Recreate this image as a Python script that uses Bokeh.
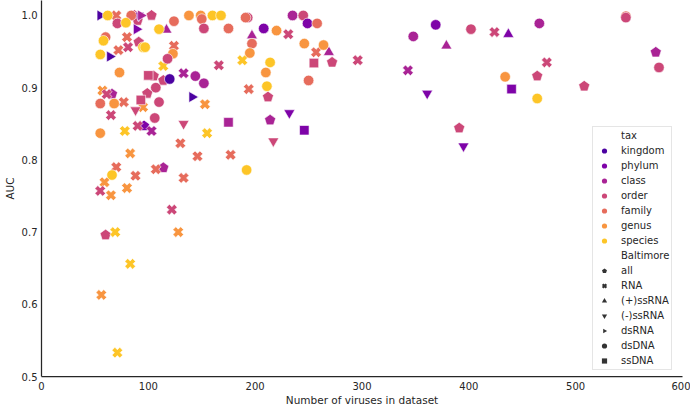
import numpy as np
from bokeh.plotting import figure
from bokeh.models import Legend, LegendItem, FixedTicker, NumeralTickFormatter, Range1d
from bokeh.embed import file_html
from bokeh.resources import INLINE

tax_levels = ["kingdom", "phylum", "class", "order", "family", "genus", "species"]
tax_colors = ["#4c02a1", "#7e03a8", "#a92395", "#cc4778", "#e66c5c", "#f89540", "#fdc527"]
baltimore_groups = ["all", "RNA", "(+)ssRNA", "(-)ssRNA", "dsRNA", "dsDNA", "ssDNA"]
x_ticks = [0, 100, 200, 300, 400, 500, 600]
y_ticks = [0.5, 0.6, 0.7, 0.8, 0.9, 1.0]

n_viruses = [55, 62, 70, 84, 87, 91, 93, 103, 124, 138, 149, 150, 160, 168, 193, 191,
             235, 245, 249, 258, 152, 175, 208, 220, 110, 117, 231, 197, 197, 124,
             123, 118, 114, 95, 166, 188, 214, 210, 211, 100, 105, 120, 114, 133,
             144, 152, 246, 264, 257, 269, 195, 255, 272, 296, 250, 194, 212, 141,
             153, 232, 133, 175, 214, 246, 217, 155, 130, 146, 177, 192, 133, 128,
             369, 466, 348, 402, 424, 437, 379, 343, 473, 434, 464, 440, 361, 464,
             508, 391, 395, 547, 547, 575, 578, 65, 88, 95, 106, 55, 78, 90, 96,
             103, 83, 70, 66, 59, 55, 65, 80, 88, 107, 114, 122, 60, 69, 83, 56, 71,
             73, 99, 57, 61, 66, 55, 68, 77, 93, 107, 110, 71, 79, 90, 89, 60, 58,
             80, 81, 72, 91, 97, 55, 64]
auc = [1.000, 1.000, 1.000, 1.000, 1.000, 1.000, 1.000, 1.000, 0.992, 1.000, 1.000, 0.995,
       1.000, 1.000, 0.997, 0.997, 1.000, 1.000, 0.989, 0.989, 0.982, 0.982, 0.982, 0.979,
       0.981, 0.980, 0.974, 0.972, 0.961, 0.958, 0.947, 0.940, 0.930, 0.956, 0.931, 0.938,
       0.935, 0.921, 0.902, 0.917, 0.916, 0.912, 0.910, 0.920, 0.916, 0.906, 0.961, 0.959,
       0.949, 0.949, 0.948, 0.934, 0.935, 0.938, 0.910, 0.898, 0.887, 0.887, 0.877, 0.865,
       0.850, 0.852, 0.855, 0.841, 0.826, 0.837, 0.823, 0.805, 0.807, 0.786, 0.775, 0.700,
       0.987, 0.989, 0.971, 0.981, 0.977, 0.974, 0.958, 0.924, 0.935, 0.915, 0.916, 0.898,
       0.892, 0.885, 0.902, 0.844, 0.819, 0.999, 0.997, 0.949, 0.928, 0.862, 0.869, 0.873,
       0.858, 0.837, 0.840, 0.847, 0.847, 0.840, 0.809, 0.790, 0.779, 0.769, 0.757, 0.751,
       0.761, 0.778, 0.787, 0.789, 0.731, 0.696, 0.700, 0.656, 0.613, 0.533, 0.921, 0.892,
       0.896, 0.891, 0.891, 0.878, 0.878, 0.880, 0.883, 0.900, 0.880, 0.989, 0.990, 0.993,
       0.981, 0.970, 0.965, 0.970, 0.956, 0.952, 0.963, 0.956, 0.946, 0.943]
tax = ["kingdom", "species", "family", "family", "order", "phylum", "class", "order",
       "family", "genus", "genus", "family", "species", "species", "order", "family",
       "class", "order", "phylum", "family", "order", "family", "phylum", "genus",
       "species", "class", "order", "class", "family", "family", "genus", "order",
       "species", "species", "order", "species", "species", "genus", "species", "order",
       "order", "kingdom", "order", "class", "class", "class", "genus", "genus",
       "family", "class", "genus", "order", "order", "order", "family", "family",
       "order", "kingdom", "genus", "phylum", "order", "class", "class", "phylum",
       "order", "species", "family", "family", "family", "species", "family", "genus",
       "phylum", "class", "class", "order", "order", "phylum", "class", "class",
       "order", "genus", "order", "phylum", "phylum", "species", "order", "order",
       "phylum", "family", "order", "class", "order", "order", "order", "genus",
       "order", "genus", "species", "order", "phylum", "class", "genus", "family",
       "species", "genus", "order", "genus", "genus", "family", "family", "class",
       "order", "order", "species", "species", "genus", "species", "genus", "order",
       "genus", "order", "class", "family", "genus", "family", "order", "order",
       "order", "order", "species", "order", "phylum", "family", "species", "family",
       "order", "family", "order", "species", "species", "kingdom"]
baltimore = ["dsRNA", "dsDNA", "RNA", "dsDNA", "all", "(-)ssRNA", "dsRNA", "all",
             "dsDNA", "dsDNA", "dsDNA", "dsDNA", "dsDNA", "dsDNA", "dsDNA", "dsDNA",
             "dsDNA", "dsDNA", "dsDNA", "dsDNA", "dsDNA", "dsDNA", "dsDNA", "dsDNA",
             "dsDNA", "(+)ssRNA", "RNA", "(+)ssRNA", "dsDNA", "RNA", "dsDNA", "dsDNA",
             "RNA", "dsDNA", "RNA", "RNA", "dsDNA", "dsDNA", "dsDNA", "ssDNA",
             "all", "dsDNA", "all", "RNA", "dsDNA", "dsDNA", "dsDNA", "dsDNA",
             "RNA", "(+)ssRNA", "dsDNA", "ssDNA", "all", "RNA", "dsDNA", "RNA",
             "all", "dsRNA", "RNA", "(-)ssRNA", "(-)ssRNA", "ssDNA", "all", "ssDNA",
             "(-)ssRNA", "RNA", "RNA", "RNA", "RNA", "dsDNA", "RNA", "RNA",
             "dsDNA", "dsDNA", "dsDNA", "dsDNA", "RNA", "(+)ssRNA", "(+)ssRNA", "RNA",
             "RNA", "dsDNA", "all", "ssDNA", "(-)ssRNA", "dsDNA", "all", "all",
             "(-)ssRNA", "dsDNA", "dsDNA", "all", "dsDNA", "RNA", "(-)ssRNA", "RNA",
             "dsDNA", "dsDNA", "RNA", "RNA", "all", "RNA", "RNA", "RNA",
             "dsDNA", "RNA", "RNA", "RNA", "RNA", "RNA", "RNA", "all",
             "RNA", "all", "RNA", "RNA", "RNA", "RNA", "dsDNA", "all",
             "RNA", "RNA", "all", "dsDNA", "dsDNA", "RNA", "ssDNA", "dsDNA",
             "dsDNA", "dsDNA", "dsDNA", "all", "dsRNA", "dsDNA", "dsDNA", "RNA",
             "RNA", "RNA", "all", "dsDNA", "dsDNA", "dsRNA"]

FONT = "DejaVu Sans"
INK = "#262626"
DARK = "#333333"
color_of = dict(zip(tax_levels, tax_colors))

p = figure(width=690, height=408, x_range=Range1d(0, 600), y_range=Range1d(0.5, 1.0207),
           output_backend="svg", toolbar_location=None,
           min_border_left=41, min_border_right=8, min_border_top=0, min_border_bottom=31)
p.outline_line_color = None
p.grid.visible = False
p.background_fill_color = "white"

for ax in (p.xaxis[0], p.yaxis[0]):
    ax.axis_line_color = INK
    ax.axis_line_width = 1.25
    ax.major_tick_line_color = None
    ax.minor_tick_line_color = None
    ax.major_tick_out = 0
    ax.major_tick_in = 0
    ax.minor_tick_out = 0
    ax.major_label_text_font = FONT
    ax.major_label_text_font_size = "10px"
    ax.major_label_text_color = INK
    ax.axis_label_text_font = FONT
    ax.axis_label_text_font_size = "10.5px"
    ax.axis_label_text_font_style = "normal"
    ax.axis_label_text_color = INK

p.xaxis.ticker = FixedTicker(ticks=x_ticks)
p.yaxis.ticker = FixedTicker(ticks=y_ticks)
p.xaxis.formatter = NumeralTickFormatter(format="0")
p.yaxis.formatter = NumeralTickFormatter(format="0.0")
p.xaxis.axis_label = "Number of viruses in dataset"
p.yaxis.axis_label = "AUC"
p.xaxis.major_label_standoff = 5
p.xaxis.axis_label_standoff = 1
p.yaxis.major_label_standoff = 4
p.yaxis.axis_label_standoff = 3

marker_spec = {
    "RNA": dict(marker="plus", size=11, angle=np.pi / 4),
    "(+)ssRNA": dict(marker="triangle", size=11, angle=0),
    "(-)ssRNA": dict(marker="inverted_triangle", size=11, angle=0),
    "dsRNA": dict(marker="triangle", size=11, angle=-np.pi / 2),
    "dsDNA": dict(marker="circle", size=10.5, angle=0),
    "ssDNA": dict(marker="square", size=9.5, angle=0),
}

for grp in baltimore_groups:
    idx = [i for i, b in enumerate(baltimore) if b == grp]
    xs = [n_viruses[i] for i in idx]
    ys = [auc[i] for i in idx]
    cs = [color_of[tax[i]] for i in idx]
    if grp == "all":
        p.ngon(x=xs, y=ys, radius=5.8, radius_units="screen", n=5, angle=0,
               fill_color=cs, line_color="white", line_width=0.6)
    else:
        spec = marker_spec[grp]
        p.scatter(x=xs, y=ys, marker=spec["marker"], size=spec["size"], angle=spec["angle"],
                  fill_color=cs, line_color="white", line_width=0.6)

# legend proxies (NaN positions -> never drawn in the plot area)
nan = [float("nan")]
items = []
hdr1 = p.scatter(x=nan, y=nan, marker="circle", size=1, fill_alpha=0, line_alpha=0)
items.append(LegendItem(label="tax", renderers=[hdr1]))
for lvl, col in zip(tax_levels, tax_colors):
    r = p.scatter(x=nan, y=nan, marker="circle", fill_color=col, line_color=None)
    items.append(LegendItem(label=lvl, renderers=[r]))
hdr2 = p.scatter(x=nan, y=nan, marker="circle", size=1, fill_alpha=0, line_alpha=0)
items.append(LegendItem(label="Baltimore", renderers=[hdr2]))

for grp in baltimore_groups:
    if grp == "all":
        r = p.ngon(x=nan, y=nan, radius=3, radius_units="screen", n=5, angle=0,
                   fill_color=DARK, line_color=None)
    elif grp == "dsRNA":
        r = p.ngon(x=nan, y=nan, radius=3, radius_units="screen", n=3, angle=-np.pi / 2,
                   fill_color=DARK, line_color=None)
    elif grp == "RNA":
        r = p.scatter(x=nan, y=nan, marker="x", line_color=DARK, line_width=2.2)
    else:
        r = p.scatter(x=nan, y=nan, marker=marker_spec[grp]["marker"],
                      fill_color=DARK, line_color=None)
    items.append(LegendItem(label=grp, renderers=[r]))

legend = Legend(items=items, location=(551, 6))
legend.margin = 0
legend.padding = 2
legend.spacing = 2
legend.glyph_width = 18
legend.glyph_height = 13
legend.label_height = 13
legend.label_standoff = 8
legend.label_text_font = FONT
legend.label_text_font_size = "10px"
legend.label_text_color = INK
legend.border_line_color = "#cccccc"
legend.border_line_width = 1
legend.background_fill_alpha = 0.8
p.add_layout(legend)

open("out.html", "w").write(file_html(p, INLINE))
